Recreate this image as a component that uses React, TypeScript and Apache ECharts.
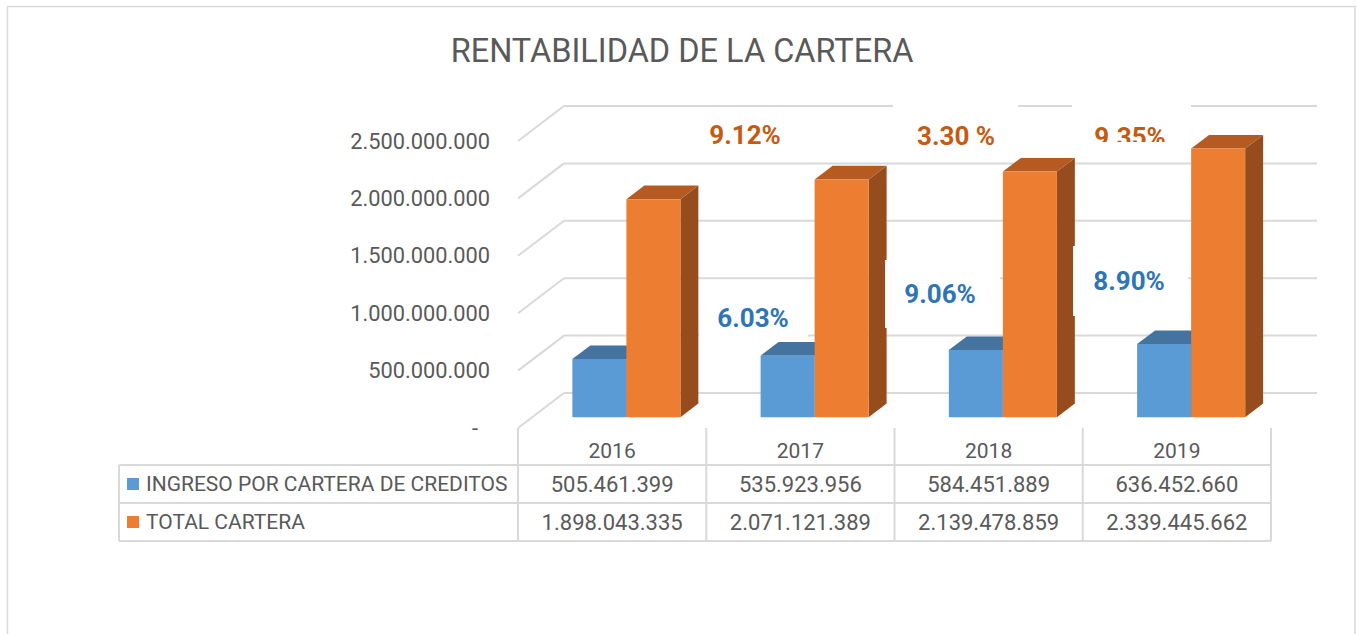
import React, { useEffect, useRef } from "react";
import * as echarts from "echarts";

// ---------------- data ----------------
const TITLE = "RENTABILIDAD DE LA CARTERA";
const YEARS = ["2016", "2017", "2018", "2019"];
const SERIES_NAMES = ["INGRESO POR CARTERA DE CREDITOS", "TOTAL CARTERA"];
const INGRESO = [505461399, 535923956, 584451889, 636452660];
const TOTAL = [1898043335, 2071121389, 2139478859, 2339445662];
// growth vs previous year, 2017..2019
const INGRESO_GROWTH = ["6.03%", "9.06%", "8.90%"];
const TOTAL_GROWTH = ["9.12%", "3.30 %", "9.35%"];
const Y_TICKS = [0, 500000000, 1000000000, 1500000000, 2000000000, 2500000000];

// ---------------- layout / style ----------------
const FONT = "Roboto, 'Noto Sans', sans-serif";
const TEXT_COLOR = "#595959";
const LINE_COLOR = "#D9D9D9";
const GRID = { left: 518, top: 141, width: 753, height: 287 };
const DEPTH = { dx: 46, dy: -35 };
const BAR_FRONT = 0.31;
const BAR_DEPTH = 0.39;
const BAR_WIDTH = 0.287;
const COLORS = [
  { front: "#5B9BD5", top: "#44739F", side: "#3B6690" },
  { front: "#ED7D31", top: "#B55B22", side: "#974C1D" },
];
const LABEL_COLORS = ["#2E75B6", "#C55A11"];
const GROWTH_POS = [
  [
    { x: 753, y: 318, box: [699, 290, 109, 50] },
    { x: 940, y: 294, box: [885, 260, 115, 68] },
    { x: 1129, y: 281, box: [1073, 246, 115, 70] },
  ],
  [
    { x: 745, y: 135, box: null },
    { x: 956, y: 136, box: [893, 103, 125, 47] },
    { x: 1130, y: 137, box: [1072, 103, 119, 39] },
  ],
];
const CLIP_935 = [1085, 142, 95, 9];
const TABLE = { left: 119, headerTop: 428, rowTop: 465, rowH: 38 };

function fmt(n: number): string {
  return String(Math.round(n)).replace(/\B(?=(\d{3})+(?!\d))/g, ".");
}

function makeBarRenderer(seriesIdx: number) {
  return (params: any, api: any) => {
    const idx = api.value(0);
    const val = api.value(1);
    const base = api.coord([idx, 0]);
    const top = api.coord([idx, val]);
    const catW = api.size([1, 0])[0];
    const w = catW * BAR_WIDTH;
    const fx = DEPTH.dx * BAR_FRONT;
    const fy = DEPTH.dy * BAR_FRONT;
    const ddx = DEPTH.dx * BAR_DEPTH;
    const ddy = DEPTH.dy * BAR_DEPTH;
    const cx = base[0] + fx;
    const xl = seriesIdx === 0 ? cx - w : cx;
    const yb = base[1] + fy;
    const yt = top[1] + fy;
    const c = COLORS[seriesIdx];
    return {
      type: "group",
      children: [
        {
          type: "polygon",
          shape: { points: [[xl + w, yt], [xl + w + ddx, yt + ddy], [xl + w + ddx, yb + ddy], [xl + w, yb]] },
          style: { fill: c.side },
        },
        {
          type: "polygon",
          shape: { points: [[xl, yt], [xl + w, yt], [xl + w + ddx, yt + ddy], [xl + ddx, yt + ddy]] },
          style: { fill: c.top },
        },
        {
          type: "rect",
          shape: { x: xl, y: yt, width: w, height: yb - yt },
          style: { fill: c.front },
        },
      ],
    };
  };
}

function wallRenderer(params: any, api: any) {
  const v = api.value(1);
  const p = api.coord([0, v]);
  const cs = params.coordSys;
  const x0 = cs.x;
  const y = p[1];
  const st = { stroke: LINE_COLOR, lineWidth: 2 };
  return {
    type: "group",
    children: [
      { type: "line", shape: { x1: x0, y1: y, x2: x0 + DEPTH.dx, y2: y + DEPTH.dy }, style: st },
      {
        type: "line",
        shape: { x1: x0 + DEPTH.dx, y1: y + DEPTH.dy, x2: x0 + cs.width + DEPTH.dx, y2: y + DEPTH.dy },
        style: st,
      },
    ],
  };
}

function buildGraphic(): any[] {
  const els: any[] = [];
  const catW = GRID.width / YEARS.length;
  const right = GRID.left + GRID.width;
  const lineStyle = { stroke: LINE_COLOR, lineWidth: 2 };
  // outer border
  els.push({
    type: "rect",
    shape: { x: 7.5, y: 6.5, width: 1347.5, height: 700 },
    style: { fill: "none", stroke: LINE_COLOR, lineWidth: 1.5 },
    z: 0,
  });
  // title
  els.push({
    type: "text",
    x: 682,
    y: 51,
    style: {
      text: TITLE,
      fill: TEXT_COLOR,
      fontFamily: FONT,
      fontSize: 32.5,
      align: "center",
      verticalAlign: "middle",
    },
  });
  // table verticals
  for (let k = 0; k <= YEARS.length; k++) {
    const x = GRID.left + k * catW;
    els.push({
      type: "line",
      shape: { x1: x, y1: TABLE.headerTop, x2: x, y2: TABLE.rowTop + 2 * TABLE.rowH },
      style: lineStyle,
    });
  }
  // table horizontals
  for (let r = 0; r <= 2; r++) {
    const y = TABLE.rowTop + r * TABLE.rowH;
    els.push({ type: "line", shape: { x1: TABLE.left, y1: y, x2: right, y2: y }, style: lineStyle });
  }
  els.push({
    type: "line",
    shape: { x1: TABLE.left, y1: TABLE.rowTop, x2: TABLE.left, y2: TABLE.rowTop + 2 * TABLE.rowH },
    style: lineStyle,
  });
  // rows
  const rows = [INGRESO, TOTAL];
  rows.forEach((vals, r) => {
    const cy = TABLE.rowTop + r * TABLE.rowH + TABLE.rowH / 2;
    els.push({
      type: "rect",
      shape: { x: TABLE.left + 8, y: cy - 6, width: 12, height: 12 },
      style: { fill: COLORS[r].front },
    });
    els.push({
      type: "text",
      x: TABLE.left + 27,
      y: cy,
      style: {
        text: SERIES_NAMES[r],
        fill: TEXT_COLOR,
        fontFamily: FONT,
        fontSize: 21,
        align: "left",
        verticalAlign: "middle",
      },
    });
    vals.forEach((v, i) => {
      els.push({
        type: "text",
        x: GRID.left + (i + 0.5) * catW,
        y: cy,
        style: {
          text: fmt(v),
          fill: TEXT_COLOR,
          fontFamily: FONT,
          fontSize: 22,
          align: "center",
          verticalAlign: "middle",
        },
      });
    });
  });
  // growth labels
  [INGRESO_GROWTH, TOTAL_GROWTH].forEach((labels, s) => {
    labels.forEach((t, i) => {
      const pos = GROWTH_POS[s][i];
      if (pos.box) {
        els.push({
          type: "rect",
          shape: { x: pos.box[0], y: pos.box[1], width: pos.box[2], height: pos.box[3] },
          style: { fill: "#FFFFFF" },
          z: 50,
        });
      }
      els.push({
        type: "text",
        x: pos.x,
        y: pos.y,
        z: 51,
        style: {
          text: t,
          fill: LABEL_COLORS[s],
          fontFamily: FONT,
          fontWeight: "bold",
          fontSize: 26,
          align: "center",
          verticalAlign: "middle",
        },
      });
    });
  });
  els.push({
    type: "rect",
    shape: { x: CLIP_935[0], y: CLIP_935[1], width: CLIP_935[2], height: CLIP_935[3] },
    style: { fill: "#FFFFFF" },
    z: 52,
  });
  return els;
}

export default function App() {
  const ref = useRef<HTMLDivElement>(null);
  useEffect(() => {
    if (!ref.current) return;
    const chart = echarts.init(ref.current, undefined, { renderer: "svg" });
    const option: any = {
      animation: false,
      backgroundColor: "#FFFFFF",
      grid: { left: GRID.left, top: GRID.top, width: GRID.width, height: GRID.height, containLabel: false },
      xAxis: {
        type: "category",
        data: YEARS,
        axisLine: { show: false },
        axisTick: { show: false },
        splitLine: { show: false },
        axisLabel: { color: TEXT_COLOR, fontFamily: FONT, fontSize: 21, margin: 12 },
      },
      yAxis: {
        type: "value",
        min: 0,
        max: Y_TICKS[Y_TICKS.length - 1],
        interval: Y_TICKS[1] - Y_TICKS[0],
        axisLine: { show: false },
        axisTick: { show: false },
        splitLine: { show: false },
        axisLabel: {
          color: TEXT_COLOR,
          fontFamily: FONT,
          fontSize: 21.8,
          margin: 28,
          formatter: (v: number) => (v === 0 ? "{z|-}" : fmt(v)),
          rich: { z: { color: TEXT_COLOR, fontFamily: FONT, fontSize: 21.8, padding: [0, 12, 0, 0] } },
        },
      },
      series: [
        {
          type: "custom",
          name: "wall",
          renderItem: wallRenderer,
          data: Y_TICKS.map((v) => [0, v]),
          encode: { x: 0, y: 1 },
          clip: false,
          silent: true,
          z: 1,
        },
        {
          type: "custom",
          name: SERIES_NAMES[0],
          renderItem: makeBarRenderer(0),
          data: INGRESO.map((v, i) => [i, v]),
          encode: { x: 0, y: 1 },
          clip: false,
          z: 2,
        },
        {
          type: "custom",
          name: SERIES_NAMES[1],
          renderItem: makeBarRenderer(1),
          data: TOTAL.map((v, i) => [i, v]),
          encode: { x: 0, y: 1 },
          clip: false,
          z: 3,
        },
      ],
      graphic: { elements: buildGraphic() },
    };
    chart.setOption(option);
    return () => chart.dispose();
  }, []);
  return (
    <div
      ref={ref}
      style={{ position: "absolute", left: 0, top: 0, width: 1357, height: 634, background: "#fff" }}
    />
  );
}
